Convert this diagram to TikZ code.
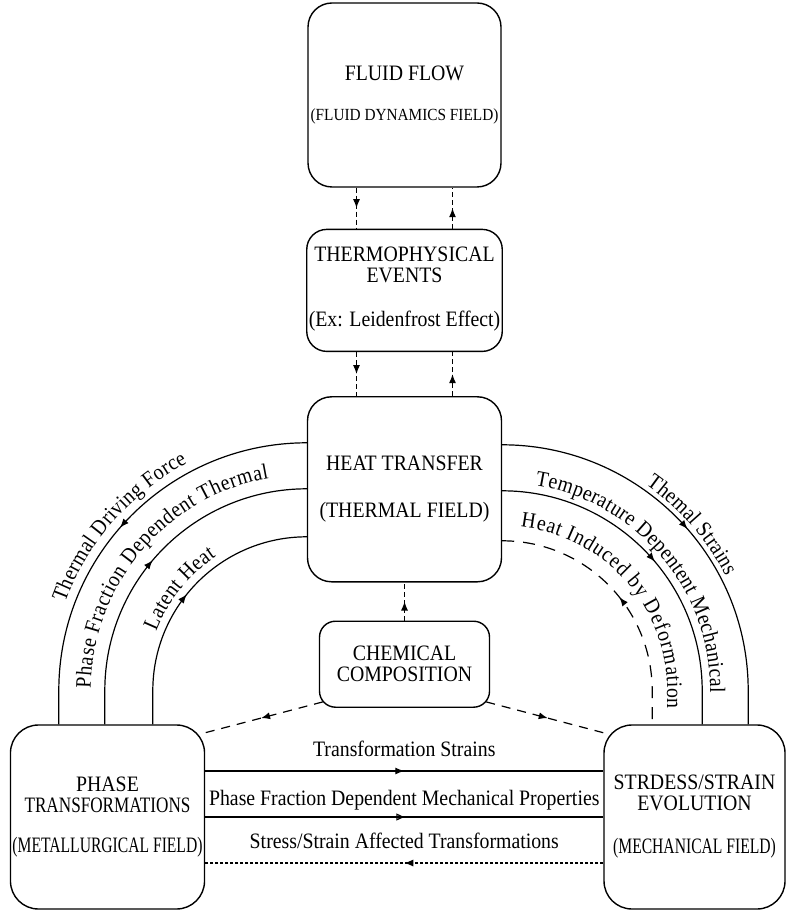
\documentclass[tikz,border=0pt]{standalone}
\usepackage{fontspec}
\setmainfont{Liberation Serif}[FakeStretch=0.9]
\newfontfamily\narrowfont{Liberation Serif}[FakeStretch=0.71]
\newfontfamily\midfont{Liberation Serif}[FakeStretch=0.78]
\usetikzlibrary{arrows.meta,positioning,calc,decorations.markings,decorations.text}

\newcommand\arcfont{\fontsize{11}{13}\selectfont}

\tikzset{
  field/.style={draw, line width=0.7pt, rounded corners=12pt, align=center, inner sep=1pt, font=\fontsize{11}{10.5}\selectfont},
  link/.style={line width=0.6pt},
  dlink/.style={link, dash pattern=on 2.5pt off 1.5pt},
  clink/.style={link, dash pattern=on 4.5pt off 3.5pt},
  plink/.style={link, dash pattern=on 1.5pt off 1pt},
  alink/.style={link, dash pattern=on 6pt off 4.5pt},
  fwd/.style={postaction={decorate, decoration={markings, mark=at position 0.5 with {\arrow{>}}}}},
  bwd/.style={postaction={decorate, decoration={markings, mark=at position 0.5 with {\arrowreversed{>}}}}},
  fwdopen/.style={postaction={decorate, decoration={markings, mark=at position 0.5 with {\arrow{Triangle[open,length=4pt,width=3.5pt]}}}}},
  arctext/.style 2 args={postaction={decorate, decoration={text along path, text align=center, raise=#2, text={|\arcfont|#1}}}},
  elabel/.style={anchor=base, yshift=#1, inner sep=0pt, font=\fontsize{11}{13}\selectfont}
}

\begin{document}
\begin{tikzpicture}[x=0.5pt, y=0.5pt, node distance=20pt, >={Latex[length=4.5pt,width=3.5pt]}]
    \useasboundingbox (0,0) rectangle (787,-913);

    % field boxes
    \node[field, minimum width=96.5pt, minimum height=92pt] (ff) at (404.5,-95) {FLUID FLOW\\[9.5pt]{\fontsize{8.5}{10}\selectfont (FLUID DYNAMICS FIELD)}};
    \node[field, minimum width=96.5pt, minimum height=61pt, rounded corners=10pt, below=20.5pt of ff] (tp) {THERMOPHYSICAL\\EVENTS\\[11.5pt](Ex: Leidenfrost Effect)\\[-7pt]\mbox{}};
    \node[field, minimum width=97pt, minimum height=92.5pt, below=22pt of tp] (ht) {HEAT TRANSFER\\[13pt](THERMAL FIELD)};
    \node[field, minimum width=85pt, minimum height=43pt, rounded corners=8pt, below=19pt of ht] (cc) {CHEMICAL\\COMPOSITION};
    \node[field, minimum width=95.5pt, minimum height=92pt, rounded corners=14pt] (ph) at (107.5,-817) {PHASE\\{\midfont TRANSFORMATIONS}\\[9.5pt]{\narrowfont (METALLURGICAL FIELD)}};
    \node[field, minimum width=90.5pt, minimum height=92pt, rounded corners=14pt] (se) at (694.5,-817) {STRDESS/STRAIN\\EVOLUTION\\[11pt]{\narrowfont (MECHANICAL FIELD)}};

    % vertical couplings
    \draw[dlink, fwd] ([xshift=-24pt]ff.south) -- ([xshift=-24pt]tp.north);
    \draw[dlink, fwd] ([xshift=24pt]tp.north) -- ([xshift=24pt]ff.south);
    \draw[dlink, fwd] ([xshift=-24pt]tp.south) -- ([xshift=-24pt]ht.north);
    \draw[dlink, fwd] ([xshift=24pt]ht.north) -- ([xshift=24pt]tp.south);
    \draw[dlink, fwd] (cc.north) -- (ht.south);

    % chemical composition
    \draw[clink, fwd] ([shift={(2pt,3pt)}]cc.south west) -- ([shift={(-3pt,-5pt)}]ph.north east);
    \draw[clink, fwd] ([shift={(-2pt,3pt)}]cc.south east) -- ([shift={(3pt,-5pt)}]se.north west);

    % metallurgical - mechanical
    \draw[link, fwd] ([yshift=23pt]ph.east) -- node[elabel=7.5pt] {Transformation Strains} ([yshift=23pt]se.west);
    \draw[link, fwdopen] (ph.east) -- node[elabel=6pt] {Phase Fraction Dependent Mechanical Properties} (se.west);
    \draw[plink, fwd] ([yshift=-23pt]se.west) -- node[elabel=7.5pt] {Stress/Strain Affected Transformations} ([yshift=-23pt]ph.east);

    % arcs to heat transfer
    \coordinate (lc) at ([yshift=-100.75pt]ht.west);
    \coordinate (rc) at ([yshift=-100.75pt]ht.east);
    \path (lc) ++(-124pt,0) coordinate (lo);
    \path (lc) ++(-101pt,0) coordinate (lm);
    \path (lc) ++(-77pt,0) coordinate (li);
    \path (rc) ++(123pt,0) coordinate (ro);
    \path (rc) ++(100pt,0) coordinate (rm);
    \path (rc) ++(75pt,0) coordinate (ri);

    \draw[link, bwd, arctext={Thermal Driving Force}{4.5pt}] (lo |- ph.north) -- (lo) arc[start angle=180, end angle=90, radius=124pt];
    \draw[link, fwd, arctext={Phase Fraction Dependent Thermal}{7pt}] (lm |- ph.north) -- (lm) arc[start angle=180, end angle=90, radius=101pt];
    \draw[link, fwd, arctext={Latent Heat}{4pt}] (li |- ph.north) -- (li) arc[start angle=180, end angle=90, radius=77pt];

    \draw[link, fwd, arctext={Themal Strains}{2.5pt}] ([yshift=123pt]rc) arc[start angle=90, end angle=0, radius=123pt] -- (ro |- se.north);
    \draw[link, fwd, arctext={Temperature Depentent Mechanical}{4pt}] ([yshift=100pt]rc) arc[start angle=90, end angle=0, radius=100pt] -- (rm |- se.north);
    \draw[alink, bwd, arctext={Heat Induced by Deformation}{7.5pt}] ([yshift=75pt]rc) arc[start angle=90, end angle=0, radius=75pt] -- (ri |- se.north);

\end{tikzpicture}
\end{document}
